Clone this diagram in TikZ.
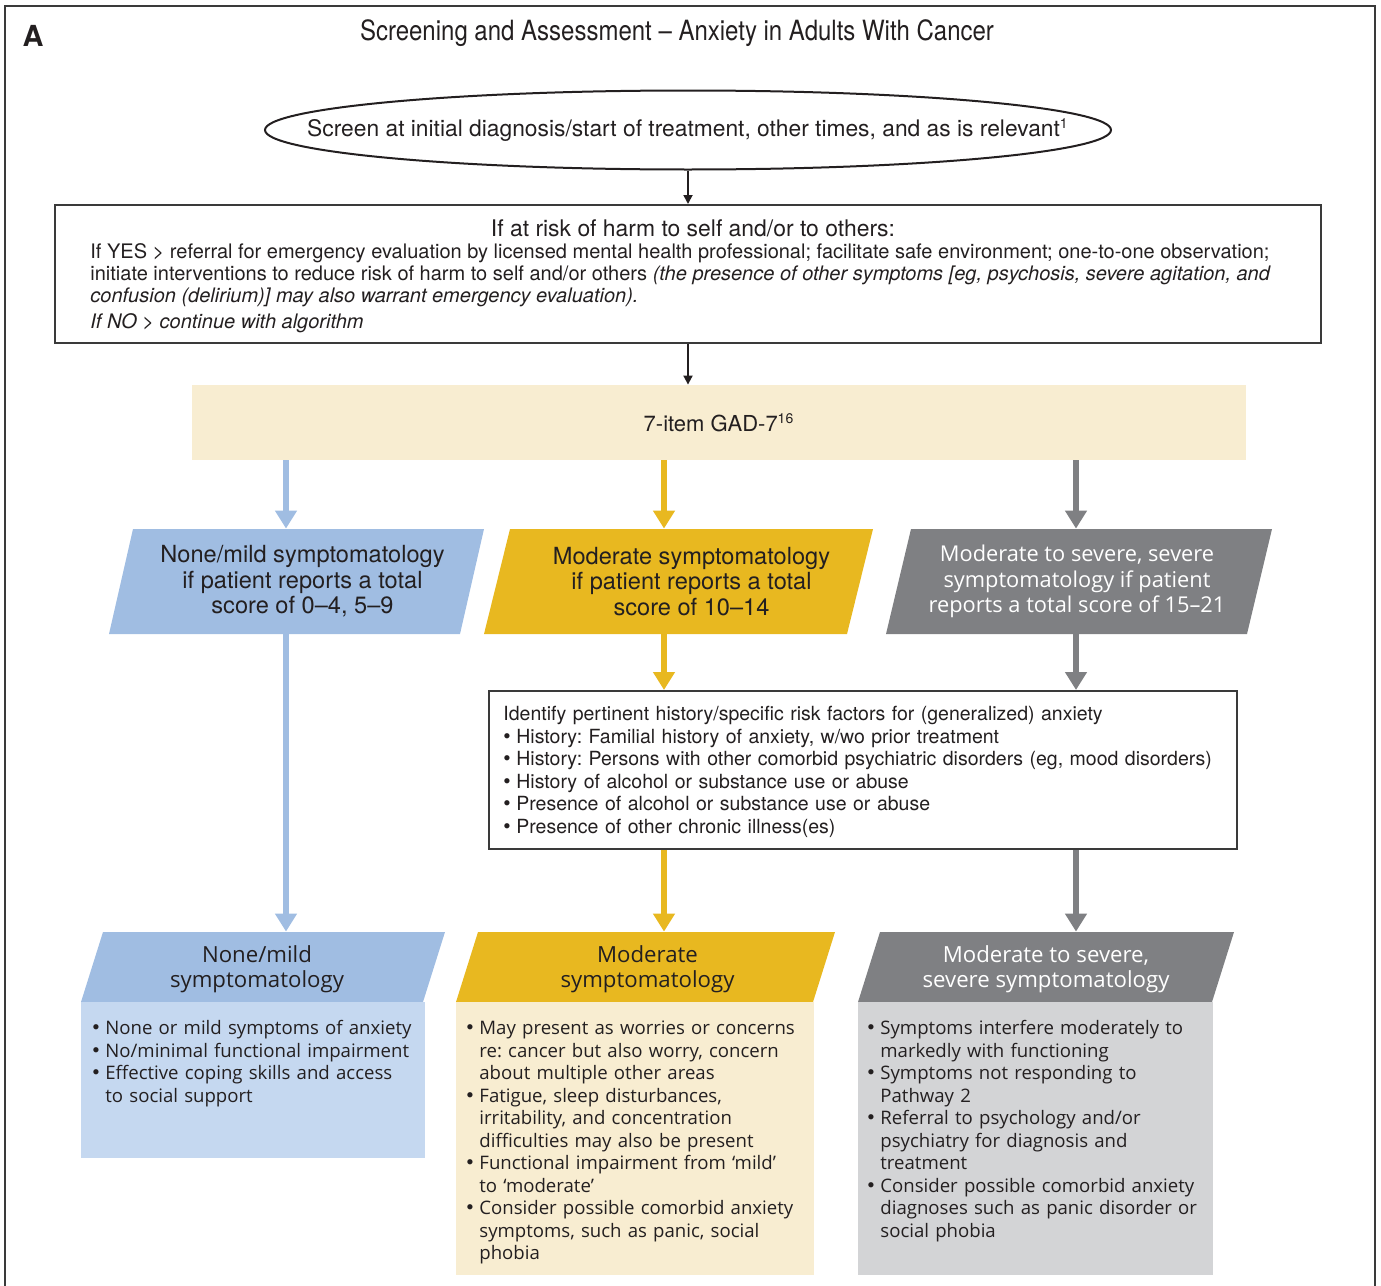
\documentclass[tikz,border=0pt]{standalone}
\usepackage{fontspec}
\setmainfont{TeX Gyre Heros}
\newfontfamily\condfont{TeX Gyre Heros}[FakeStretch=0.86]
\newfontfamily\widefont{Open Sans}
\usetikzlibrary{shapes.geometric,arrows.meta}

\definecolor{txt}{HTML}{231F20}
\definecolor{framegray}{HTML}{3A3A3A}
\definecolor{bluehd}{HTML}{A0BDE2}
\definecolor{bluebg}{HTML}{C5D8F0}
\definecolor{goldhd}{HTML}{E8B820}
\definecolor{cream}{HTML}{F8EDD1}
\definecolor{grayhd}{HTML}{7F8083}
\definecolor{graybg}{HTML}{D3D4D6}

\frenchspacing
% bullet with hanging indent
\newcommand{\itm}{\par\hangindent=6.5pt\hangafter=1\noindent
  \makebox[6.5pt][l]{\rmfamily\fontsize{10.5}{11}\selectfont\textbullet}}

\tikzset{
  flow/.style={-{Triangle[width=10.5pt,length=9pt]}, line width=3pt},
  blackflow/.style={-{Triangle[width=4.5pt,length=4.5pt]}, line width=0.9pt, draw=txt},
  % parallelogram filled inside the node's box, #2 = horizontal shift of the top edge
  slantbox/.style 2 args={rectangle, inner sep=0pt,
    path picture={\fill[#1] ([xshift=#2]path picture bounding box.north west)
      -- (path picture bounding box.north east)
      -- ([xshift=-#2]path picture bounding box.south east)
      -- (path picture bounding box.south west) -- cycle;}},
  scoretext/.style={inner sep=0pt, align=center, font=\fontsize{11.8}{12.75}\selectfont, text=txt},
  leveltext/.style={inner sep=0pt, align=center, font=\widefont\fontsize{11.1}{12.5}\selectfont, text=txt},
  bodytext/.style={anchor=north west, inner sep=0pt, align=left, text width=200pt,
    font=\widefont\fontsize{9.3}{11.25}\selectfont, text=txt}
}

\begin{document}
\begin{tikzpicture}[x=0.5pt, y=-0.5pt]
  \useasboundingbox (0,0) rectangle (1381,1285);

  % Columns of the three pathways
  \def\colA{286}
  \def\colB{664}
  \def\colC{1076}
  \coordinate (colA) at (\colA,0);
  \coordinate (colB) at (\colB,0);
  \coordinate (colC) at (\colC,0);

  % Frame
  \draw[line width=0.9pt, draw=framegray] (5,1300) -- (5,6) -- (1375,6) -- (1375,1300);

  % Heading
  \node[font=\bfseries\fontsize{14.5}{16}\selectfont, text=txt] (panel) at (33,36) {A};
  \node[font=\condfont\fontsize{13.95}{15}\selectfont, text=txt] (title) at (677,33)
    {Screening and Assessment – Anxiety in Adults With Cancer};

  % Screening
  \node[draw=txt, line width=1pt, ellipse, minimum width=423pt, minimum height=39.5pt, inner sep=0pt]
    (screen) at (688,130) {};
  \node[font=\fontsize{11.4}{13}\selectfont, text=txt] (screentext) at (688,130)
    {Screen at initial diagnosis/start of treatment, other times, and as is relevant\textsuperscript{\fontsize{7}{8}\selectfont 1}};

  % Risk of harm
  \node[draw=framegray, line width=1pt, minimum width=633pt, minimum height=69pt] (risk) at (688,274) {};
  \node[font=\fontsize{11.45}{13}\selectfont, text=txt] (risktitle) at (693,228)
    {If at risk of harm to self and/or to others:};
  \node[anchor=north west, inner sep=0pt, align=left, font=\fontsize{10}{11}\selectfont, text=txt]
    (risktext) at (90,243)
    {If YES > referral for emergency evaluation by licensed mental health professional; facilitate safe environment; one-to-one observation;\\
     initiate interventions to reduce risk of harm to self and/or others \textit{(the presence of other symptoms [eg, psychosis, severe agitation, and}\\
     \textit{confusion (delirium)] may also warrant emergency evaluation).}\\[2pt]
     \textit{If NO > continue with algorithm}};

  % GAD-7
  \node[fill=cream, minimum width=527pt, minimum height=37.5pt, inner sep=0pt,
    font=\fontsize{11}{13}\selectfont, text=txt] (gad) at (719,422.5)
    {7-item GAD-7\textsuperscript{\fontsize{7}{8}\selectfont 16}};

  % Scores
  \node[slantbox={bluehd}{12pt}, minimum width=187.5pt, minimum height=52.5pt] (none) at (296.5,581.5) {};
  \node[slantbox={goldhd}{13pt}, minimum width=194.5pt, minimum height=52.5pt] (mod) at (678.5,581.5) {};
  \node[slantbox={grayhd}{12.5pt}, minimum width=193pt, minimum height=52.5pt] (sev) at (1079,581.5) {};
  \node[scoretext] (nonetext) at ([xshift=3pt]none)
    {None/mild symptomatology\\ if patient reports a total\\ score of 0–4, 5–9};
  \node[scoretext] (modtext) at ([xshift=6.5pt]mod)
    {Moderate symptomatology\\ if patient reports a total\\ score of 10–14};
  \node[scoretext, font=\widefont\fontsize{10.9}{12.75}\selectfont, text=white] (sevtext) at ([xshift=-1pt]sev)
    {Moderate to severe, severe\\ symptomatology if patient\\ reports a total score of 15–21};

  % Risk factors
  \node[draw=framegray, line width=1pt, minimum width=374pt, minimum height=79pt] (hist) at (863,770) {};
  \node[anchor=north west, inner sep=0pt, align=left, text width=370pt,
    font=\fontsize{9.75}{11.25}\selectfont, text=txt] (histtext) at (503,706)
    {Identify pertinent history/specific risk factors for (generalized) anxiety
     \itm History: Familial history of anxiety, w/wo prior treatment
     \itm History: Persons with other comorbid psychiatric disorders (eg, mood disorders)
     \itm History of alcohol or substance use or abuse
     \itm Presence of alcohol or substance use or abuse
     \itm Presence of other chronic illness(es)\par};

  % Symptom levels
  \node[slantbox={bluehd}{11pt}, minimum width=182pt, minimum height=35pt] (nonehd) at (263,967) {};
  \node[slantbox={goldhd}{11pt}, minimum width=189.5pt, minimum height=35pt] (modhd) at (645.5,967) {};
  \node[slantbox={grayhd}{11pt}, minimum width=188pt, minimum height=35pt] (sevhd) at (1046,967) {};
  \node[leveltext] (nonehdtext) at ([xshift=-3pt,yshift=-1pt]nonehd) {None/mild\\ symptomatology};
  \node[leveltext] (modhdtext) at ([xshift=1pt,yshift=-1pt]modhd) {Moderate\\ symptomatology};
  \node[leveltext, text=white] (sevhdtext) at ([yshift=-1pt]sevhd) {Moderate to severe,\\ severe symptomatology};

  \fill[bluebg] (81,1002) rectangle (425,1158);
  \fill[cream] (456,1002) rectangle (814,1275);
  \fill[graybg] (858,1002) rectangle (1213,1275);

  \node[bodytext] (nonetxt) at (92,1012)
    {\itm None or mild symptoms of anxiety
     \itm No/minimal functional impairment
     \itm Effective coping skills and access\newline to social support\par};
  \node[bodytext] (modtxt) at (466,1012)
    {\itm May present as worries or concerns\newline re: cancer but also worry, concern\newline about multiple other areas
     \itm Fatigue, sleep disturbances,\newline irritability, and concentration\newline difficulties may also be present
     \itm Functional impairment from ‘mild’\newline to ‘moderate’
     \itm Consider possible comorbid anxiety\newline symptoms, such as panic, social\newline phobia\par};
  \node[bodytext] (sevtxt) at (867,1012)
    {\itm Symptoms interfere moderately to\newline markedly with functioning
     \itm Symptoms not responding to\newline Pathway 2
     \itm Referral to psychology and/or\newline psychiatry for diagnosis and\newline treatment
     \itm Consider possible comorbid anxiety\newline diagnoses such as panic disorder or\newline social phobia\par};

  % Connectors
  \draw[blackflow] (screen.south) -- (risk.north);
  \draw[blackflow] (risk.south) -- (risk.south |- gad.north);

  \draw[flow, draw=bluehd] (gad.south -| colA) -- (none.north -| colA);
  \draw[flow, draw=bluehd] (none.south -| colA) -- (nonehd.north -| colA);

  \draw[flow, draw=goldhd] (gad.south -| colB) -- (mod.north -| colB);
  \draw[flow, draw=goldhd] (mod.south -| colB) -- (hist.north -| colB);
  \draw[flow, draw=goldhd] (hist.south -| colB) -- (modhd.north -| colB);

  \draw[flow, draw=grayhd] (gad.south -| colC) -- (sev.north -| colC);
  \draw[flow, draw=grayhd] (sev.south -| colC) -- (hist.north -| colC);
  \draw[flow, draw=grayhd] (hist.south -| colC) -- (sevhd.north -| colC);

\end{tikzpicture}
\end{document}
